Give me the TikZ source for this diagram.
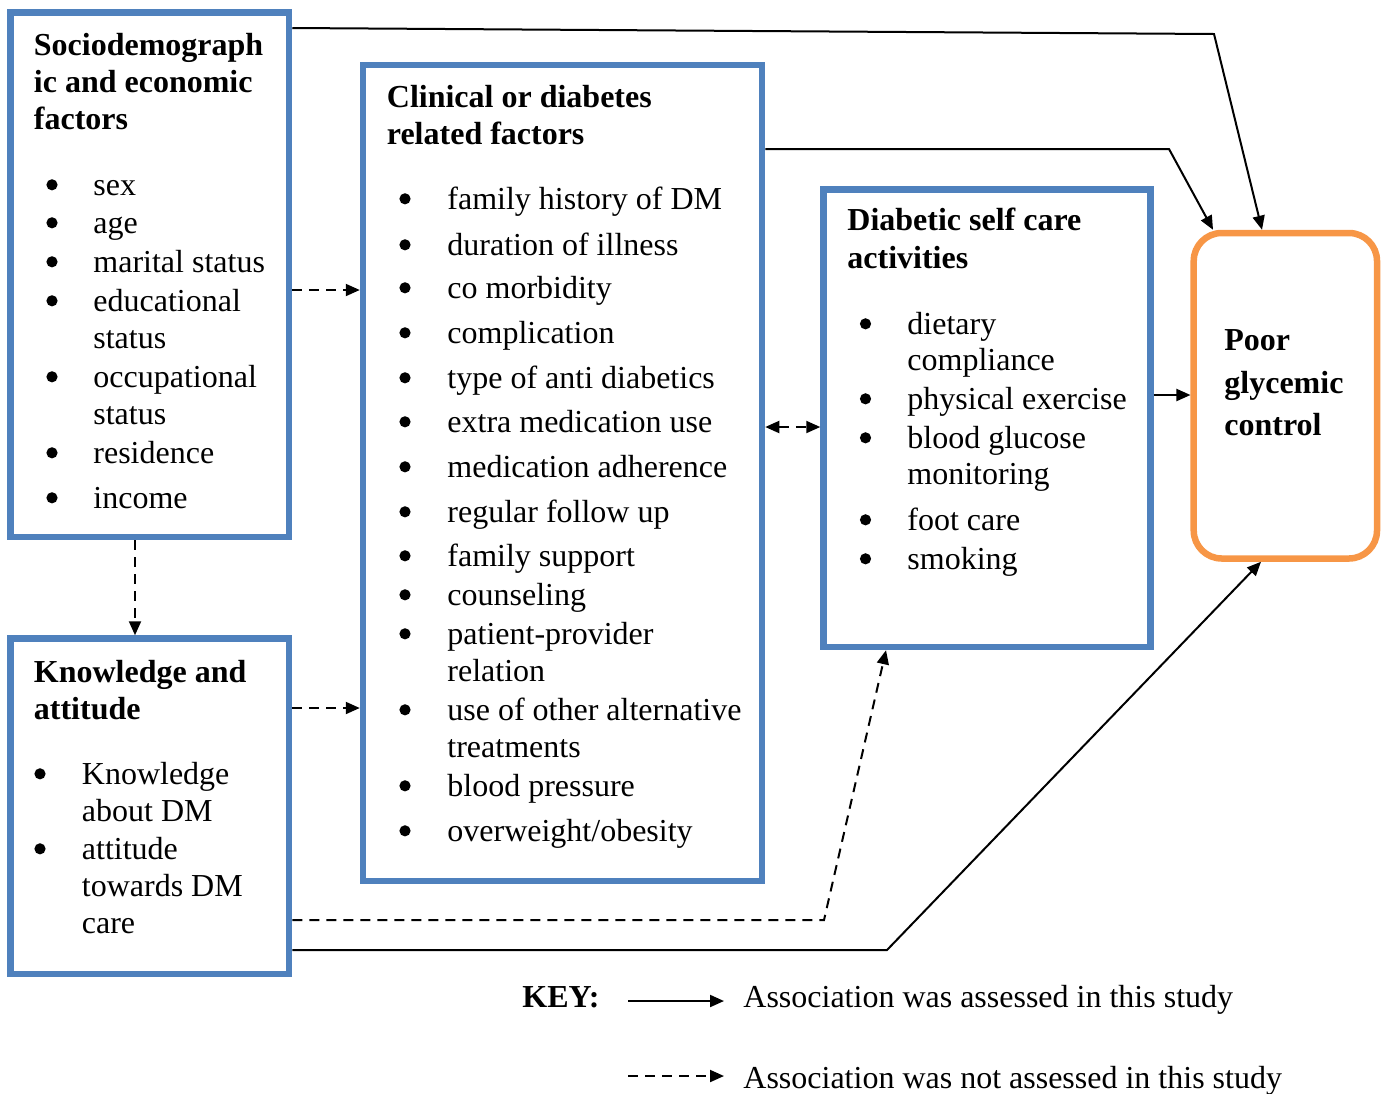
\documentclass[tikz,border=0pt]{standalone}
\usepackage{fontspec}
\setmainfont{Liberation Serif}
\usetikzlibrary{arrows.meta}
\definecolor{boxblue}{RGB}{79,129,189}
\definecolor{boxorange}{RGB}{247,150,70}
\tikzset{
  bluebox/.style={draw=boxblue, line width=3.25pt, inner sep=0pt, fill=none},
  orangebox/.style={draw=boxorange, line width=3.25pt, inner sep=0pt, rounded corners=14pt},
  txt/.style={anchor=base west, inner sep=0pt, font=\fontsize{16}{18.5}\selectfont},
  ttl/.style={anchor=base west, inner sep=0pt, font=\fontsize{16}{18.5}\selectfont\bfseries},
  bul/.style={circle, fill=black, draw=none, inner sep=0pt, minimum size=5.6pt, yshift=4.6pt},
  solidarrow/.style={line width=1pt, -{Triangle[length=7pt,width=6pt]}},
  dasharrow/.style={solidarrow, dash pattern=on 5pt off 3.5pt},
}
\begin{document}
\begin{tikzpicture}[x=0.5pt,y=-0.5pt]
\useasboundingbox (0,0) rectangle (1385,1093);
% boxes
\node[bluebox, minimum width=139.25pt, minimum height=262.25pt] (A) at (149.75,274.75) {};
\node[bluebox, minimum width=139.25pt, minimum height=167.75pt] (B) at (149.75,806.25) {};
\node[bluebox, minimum width=199.5pt, minimum height=408pt] (C) at (562.5,473) {};
\node[bluebox, minimum width=163.5pt, minimum height=228.75pt] (D) at (987,418.25) {};
\node[orangebox, minimum width=91.65pt, minimum height=162.75pt] (E) at (1285.35,395.75) {};

% Box A text
\node[ttl] (At1) at (33.5,55) {Sociodemograph};
\node[ttl] (At2) at (33.5,92) {ic and economic};
\node[ttl] (At3) at (33.5,129) {factors};
\node[bul] (Ab1) at (52,194) {};
\node[txt] (Ai1) at (93,195) {sex};
\node[bul] (Ab2) at (52,232) {};
\node[txt] (Ai2) at (93,233) {age};
\node[bul] (Ab3) at (52,271) {};
\node[txt] (Ai3) at (93,272) {marital status};
\node[bul] (Ab4) at (52,310) {};
\node[txt] (Ai4) at (93,311) {educational};
\node[txt] (Ai4b) at (93,348) {status};
\node[bul] (Ab5) at (52,386) {};
\node[txt] (Ai5) at (93,387) {occupational};
\node[txt] (Ai5b) at (93,424) {status};
\node[bul] (Ab6) at (52,462) {};
\node[txt] (Ai6) at (93,463) {residence};
\node[bul] (Ab7) at (52,507) {};
\node[txt] (Ai7) at (93,508) {income};

% Box B text
\node[ttl] (Bt1) at (33.5,682) {Knowledge and};
\node[ttl] (Bt2) at (33.5,719) {attitude};
\node[bul] (Bb1) at (40,783) {};
\node[txt] (Bi1) at (81.5,784) {Knowledge};
\node[txt] (Bi1b) at (81.5,821) {about DM};
\node[bul] (Bb2) at (40,858) {};
\node[txt] (Bi2) at (81.5,859) {attitude};
\node[txt] (Bi2b) at (81.5,896) {towards DM};
\node[txt] (Bi2c) at (81.5,933) {care};

% Box C text
\node[ttl] (Ct1) at (386.5,107.5) {Clinical or diabetes};
\node[ttl] (Ct2) at (386.5,144.5) {related factors};
\node[bul] (Cb1) at (405,208) {};
\node[txt] (Ci1) at (447,209) {family history of DM};
\node[bul] (Cb2) at (405,254) {};
\node[txt] (Ci2) at (447,255) {duration of illness};
\node[bul] (Cb3) at (405,297) {};
\node[txt] (Ci3) at (447,298) {co morbidity};
\node[bul] (Cb4) at (405,342) {};
\node[txt] (Ci4) at (447,343) {complication};
\node[bul] (Cb5) at (405,387) {};
\node[txt] (Ci5) at (447,388) {type of anti diabetics};
\node[bul] (Cb6) at (405,431) {};
\node[txt] (Ci6) at (447,432) {extra medication use};
\node[bul] (Cb7) at (405,476) {};
\node[txt] (Ci7) at (447,477) {medication adherence};
\node[bul] (Cb8) at (405,521) {};
\node[txt] (Ci8) at (447,522) {regular follow up};
\node[bul] (Cb9) at (405,565) {};
\node[txt] (Ci9) at (447,566) {family support};
\node[bul] (Cb10) at (405,604) {};
\node[txt] (Ci10) at (447,605) {counseling};
\node[bul] (Cb11) at (405,643) {};
\node[txt] (Ci11) at (447,644) {patient-provider};
\node[txt] (Ci11b) at (447,681) {relation};
\node[bul] (Cb12) at (405,719) {};
\node[txt] (Ci12) at (447,720) {use of other alternative};
\node[txt] (Ci12b) at (447,757) {treatments};
\node[bul] (Cb13) at (405,795) {};
\node[txt] (Ci13) at (447,796) {blood pressure};
\node[bul] (Cb14) at (405,840) {};
\node[txt] (Ci14) at (447,841) {overweight/obesity};

% Box D text
\node[ttl] (Dt1) at (847,230.5) {Diabetic self care};
\node[ttl] (Dt2) at (847,268.5) {activities};
\node[bul] (Db1) at (865.5,333) {};
\node[txt] (Di1) at (907,334) {dietary};
\node[txt] (Di1b) at (907,370) {compliance};
\node[bul] (Db2) at (865.5,408) {};
\node[txt] (Di2) at (907,409) {physical exercise};
\node[bul] (Db3) at (865.5,447) {};
\node[txt] (Di3) at (907,448) {blood glucose};
\node[txt] (Di3b) at (907,484) {monitoring};
\node[bul] (Db4) at (865.5,529) {};
\node[txt] (Di4) at (907,530) {foot care};
\node[bul] (Db5) at (865.5,568) {};
\node[txt] (Di5) at (907,569) {smoking};

% Box E text
\node[ttl] (Et1) at (1224,350.5) {Poor};
\node[ttl] (Et2) at (1224,393.5) {glycemic};
\node[ttl] (Et3) at (1224,435.5) {control};

% helper coordinates
\coordinate (y28) at (0,28);
\coordinate (k1) at (1214,34);
\coordinate (t1x) at (1262,0);
\coordinate (y149) at (0,149);
\coordinate (k2) at (1169,149);
\coordinate (t2x) at (1213,0);
\coordinate (y395) at (0,395);
\coordinate (y427) at (0,427);
\coordinate (y290) at (0,290);
\coordinate (x135) at (135,0);
\coordinate (y708) at (0,708);
\coordinate (y920) at (0,920);
\coordinate (k8) at (824,920);
\coordinate (t8x) at (886,0);
\coordinate (y950) at (0,950);
\coordinate (k9) at (887,950);
\coordinate (t9x) at (1261,0);

% connectors
\draw[solidarrow] (A.east |- y28) -- (k1) -- (E.north -| t1x);
\draw[solidarrow] (C.east |- y149) -- (k2) -- (E.north -| t2x);
\draw[solidarrow] (D.east |- y395) -- (E.west |- y395);
\draw[dasharrow, {Triangle[length=7pt,width=6pt]}-{Triangle[length=7pt,width=6pt]}] (C.east |- y427) -- (D.west |- y427);
\draw[dasharrow] (A.east |- y290) -- (C.west |- y290);
\draw[dasharrow] (A.south -| x135) -- (B.north -| x135);
\draw[dasharrow] (B.east |- y708) -- (C.west |- y708);
\draw[dasharrow] (B.east |- y920) -- (k8) -- (D.south -| t8x);
\draw[solidarrow] (B.east |- y950) -- (k9) -- (E.south -| t9x);

% key
\node[ttl] (key) at (522,1007) {KEY:};
\node[txt] (key1) at (743,1007) {Association was assessed in this study};
\node[txt] (key2) at (743,1088) {Association was not assessed in this study};
\coordinate (ks1) at (628,1001);
\coordinate (ke1) at (724,1001);
\coordinate (ks2) at (628,1076);
\coordinate (ke2) at (724,1076);
\draw[solidarrow] (ks1) -- (ke1);
\draw[dasharrow] (ks2) -- (ke2);
\end{tikzpicture}
\end{document}
